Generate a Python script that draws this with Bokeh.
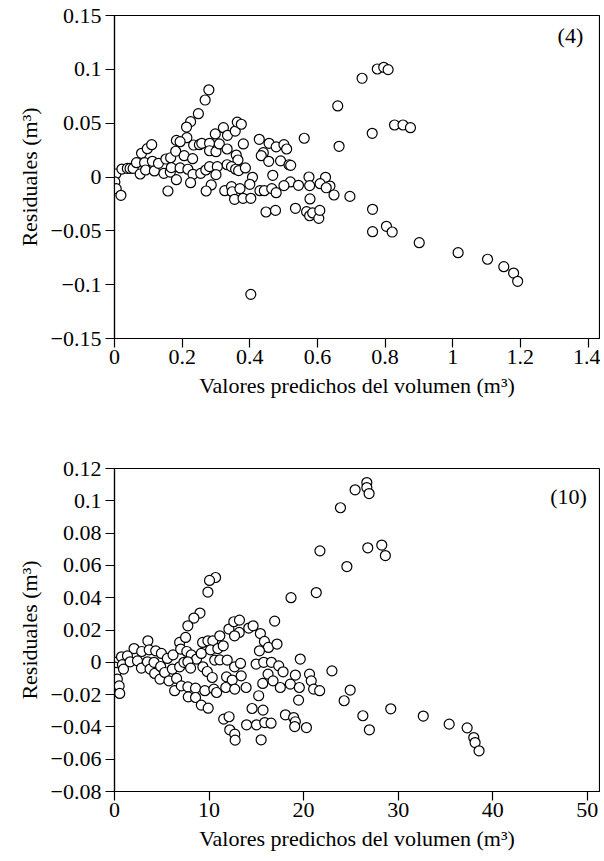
from bokeh.plotting import figure
from bokeh.layouts import column
from bokeh.models import ColumnDataSource, Range1d, FixedTicker, CustomJSTickFormatter, Label
from bokeh.embed import file_html
from bokeh.resources import INLINE

FONT = "Liberation Serif"
FS = "22px"

# ---------------- Panel (4) ----------------
x4 = [0.279, 0.268, 0.248, 0.225, 0.213, 0.214, 0.183, 0.194, 0.234, 0.251, 0.258, 0.281, 0.281, 0.300,
      0.310, 0.298, 0.322, 0.334, 0.357, 0.363, 0.375, 0.381, 0.333, 0.360, 0.365, 0.333, 0.346, 0.358,
      0.367, 0.387, 0.408, 0.400, 0.428, 0.440, 0.434, 0.457, 0.456, 0.478, 0.501, 0.509, 0.491, 0.516,
      0.521, 0.468, 0.561, 0.575, 0.577, 0.520, 0.501, 0.544, 0.660, 0.664, 0.624, 0.608, 0.637, 0.649,
      0.696,
      0.004, 0.001, 0.005, 0.019, 0.022, 0.038, 0.046, 0.055, 0.065, 0.076, 0.080, 0.097, 0.110, 0.089,
      0.092, 0.112, 0.118, 0.130, 0.152, 0.166, 0.181, 0.146, 0.165, 0.168, 0.194, 0.206, 0.231, 0.217,
      0.232, 0.225, 0.183, 0.158, 0.255, 0.270, 0.281, 0.304, 0.300, 0.286, 0.271, 0.326, 0.346, 0.348,
      0.371, 0.430, 0.443, 0.465, 0.478,
      0.355, 0.380, 0.403, 0.448, 0.476, 0.535, 0.568, 0.578, 0.577, 0.586, 0.604, 0.607, 0.626, 0.403,
      0.732, 0.777, 0.796, 0.809, 0.762, 0.828, 0.853, 0.875,
      0.763, 0.763, 0.804, 0.821, 0.901, 1.016, 1.103, 1.151, 1.180, 1.192]
y4 = [0.081, 0.0715, 0.0588, 0.0514, 0.0464, 0.0365, 0.034, 0.0328, 0.0297, 0.030, 0.0313, 0.0313, 0.0244,
      0.0235, 0.0307, 0.040, 0.0458, 0.0387, 0.0427, 0.051, 0.049, 0.0307, 0.026, 0.0204, 0.0158, 0.0114,
      0.0096, 0.0072, 0.0059, 0.0084, -0.0003, -0.0068, 0.035, 0.0226, 0.0198, 0.0313, 0.0146, 0.028,
      0.030, 0.026, 0.015, 0.0114, 0.0108, 0.0016, 0.036, 0.0, -0.008, -0.0046, -0.008, -0.0077, 0.066,
      0.0285, -0.0003, -0.0062, -0.0084, -0.0167, -0.018,
      0.0028, -0.0046, -0.0108, -0.017, 0.0074, 0.008, 0.008, 0.008, 0.0133, 0.0028, 0.022, 0.0263, 0.030,
      0.0133, 0.0065, 0.0146, 0.0056, 0.0127, 0.0167, 0.0179, 0.0239, 0.0034, 0.0046, 0.0087, 0.0084,
      0.0198, 0.017, 0.0072, 0.0025, -0.0053, -0.0025, -0.013, 0.0034, 0.0065, 0.0096, 0.0096, 0.0022,
      -0.0074, -0.013, -0.0127, -0.009, -0.0137, -0.0108, -0.0127, -0.0127, -0.0108, -0.0146,
      -0.0207, -0.0198, -0.0198, -0.0325, -0.031, -0.0291, -0.0322, -0.0204, -0.036, -0.0334, -0.0384,
      -0.031, -0.010, -0.109,
      0.0917, 0.1003, 0.1019, 0.0997, 0.0406, 0.0483, 0.0483, 0.0458,
      -0.030, -0.0508, -0.0458, -0.0511, -0.061, -0.0703, -0.0764, -0.0833, -0.0892, -0.0969]
xticks4 = [0, 0.2, 0.4, 0.6, 0.8, 1.0, 1.2, 1.4]
yticks4 = [-0.15, -0.1, -0.05, 0, 0.05, 0.1, 0.15]

# ---------------- Panel (10) ----------------
x10 = [23.9, 21.73, 24.58, 10.69, 10.05, 9.88, 18.67, 21.34, 9.04, 8.40, 25.45, 26.69, 26.69, 26.93,
       26.79, 28.27, 28.65,
       7.76, 6.89, 7.52, 3.53, 2.07, 2.88, 3.67, 4.36, 4.96, 5.59, 6.19, 7.0, 7.65, 8.12, 8.68, 9.18,
       9.32, 9.88, 10.4, 10.16, 10.93, 11.14, 11.5, 12.1, 12.62, 13.22, 13.19, 12.7, 14.2, 14.66, 15.43,
       15.86, 16.28, 16.94, 17.19, 15.33, 19.65,
       0.1, 0.05, 0.15, 0.3, 0.49, 0.55, 0.74, 0.84, 0.95, 1.37, 1.65, 2.43, 2.85, 3.48, 3.76, 4.18,
       4.25, 4.88, 4.81, 5.31, 5.76, 6.12, 6.57, 6.36, 6.89, 7.07, 7.34, 7.76, 8.05, 7.76, 8.57, 7.80,
       8.57, 9.18, 9.91, 9.35, 9.81, 10.34, 9.56, 10.51, 10.8, 10.6, 11.14, 11.92, 12.7, 13.33, 11.85,
       12.45, 13.4, 11.77, 12.72, 13.92, 14.98, 15.78, 16.6, 17.37, 17.83, 16.24, 16.77, 15.68, 17.54,
       18.6, 19.13, 19.55, 19.47, 15.25, 14.55, 15.71, 11.55, 12.12, 12.19, 12.72, 12.76, 13.97, 15.02,
       15.89, 16.56, 15.51, 18.08, 18.95, 19.13, 19.06, 20.3, 20.63, 20.81, 21.06, 21.7, 23.0, 24.29,
       24.93,
       26.27, 26.96, 29.22, 32.66, 35.4, 37.3, 38.0, 38.14, 38.56]
y10 = [0.0957, 0.069, 0.0593, 0.0525, 0.0507, 0.0435, 0.040, 0.0432, 0.0305, 0.0274, 0.1068, 0.1113,
       0.1082, 0.1045, 0.0709, 0.0726, 0.0661,
       0.0226, 0.0123, 0.0154, 0.0133, 0.0085, 0.0067, 0.0077, 0.0071, 0.0055, 0.0024, 0.0046, 0.0082,
       0.0067, 0.0046, 0.002, 0.0055, 0.0123, 0.0133, 0.0133, 0.0077, 0.0085, 0.0164, 0.0102, 0.0206,
       0.0251, 0.0261, 0.0185, 0.0164, 0.0212, 0.0226, 0.0178, 0.0129, 0.0092, 0.0255, 0.0113, 0.0071,
       0.002,
       0.0, -0.003, -0.0063, -0.0104, -0.0146, -0.0193, 0.0034, -0.0015, -0.0042, 0.004, 0.0003, 0.0009,
       -0.0036, 0.0003, -0.0042, 0.0, -0.0069, -0.0026, -0.0104, -0.0063, -0.0115, -0.0042, -0.010,
       -0.0176, -0.0028, -0.0146, 0.0, 0.0003, -0.0036, -0.0152, -0.016, -0.0214, -0.0218, -0.0265,
       -0.0284, -0.0028, -0.0057, -0.0094, -0.0176, -0.0166, -0.0187, 0.0014, 0.0015, 0.0014, -0.0028,
       -0.0007, -0.009, -0.011, -0.0084, -0.0156, -0.0166, -0.0156, -0.0011, 0.0, 0.0, -0.0022, -0.0059,
       -0.0073, -0.0115, -0.0131, -0.0156, -0.0135, -0.0079, -0.0156, -0.0234, -0.0207, -0.0286,
       -0.0296, -0.0352, -0.0337, -0.0418, -0.0445, -0.0482, -0.0387, -0.0387, -0.0373, -0.0377, -0.048,
       -0.0325, -0.0342, -0.0368, -0.0398, -0.0404, -0.0073, -0.0115, -0.0166, -0.0176, -0.0053,
       -0.0238, -0.0172,
       -0.0331, -0.0418, -0.0288, -0.0333, -0.0383, -0.0406, -0.0466, -0.0497, -0.0548]
xticks10 = [0, 10, 20, 30, 40, 50]
yticks10 = [-0.08, -0.06, -0.04, -0.02, 0, 0.02, 0.04, 0.06, 0.08, 0.1, 0.12]

XLABEL = "Valores predichos del volumen (m³)"
YLABEL = "Residuales (m³)"

FMT = CustomJSTickFormatter(code="""
const v = parseFloat(Math.abs(tick).toFixed(4));
if (v == 0) { return "0"; }
return (tick < 0 ? "\u2212" : "") + v.toString();
""")


def make(xs, ys, xr, yr, xticks, yticks, tag, tag_x, tag_y, height, top, bottom):
    p = figure(width=600, height=height, x_range=Range1d(*xr), y_range=Range1d(*yr),
               output_backend="svg", toolbar_location=None,
               min_border_left=114, min_border_right=1,
               min_border_top=top, min_border_bottom=bottom)
    p.background_fill_color = "white"
    p.border_fill_color = "white"
    p.xgrid.visible = False
    p.ygrid.visible = False
    p.outline_line_color = "black"
    p.outline_line_width = 1.2
    p.outline_line_alpha = 1.0

    src = ColumnDataSource(dict(x=xs, y=ys))
    p.scatter("x", "y", source=src, marker="circle", size=10,
              fill_color="white", line_color="black", line_width=1.2)

    for ax in (p.xaxis[0], p.yaxis[0]):
        ax.axis_line_color = "black"
        ax.axis_line_width = 1.2
        ax.major_tick_line_color = "black"
        ax.major_tick_line_width = 1.2
        ax.major_tick_out = 9
        ax.major_tick_in = 0
        ax.minor_tick_line_color = None
        ax.major_label_text_font = FONT
        ax.major_label_text_font_size = FS
        ax.major_label_text_color = "black"
        ax.axis_label_text_font = FONT
        ax.axis_label_text_font_size = FS
        ax.axis_label_text_font_style = "normal"
        ax.axis_label_text_color = "black"
        ax.formatter = FMT

    p.xaxis.ticker = FixedTicker(ticks=xticks)
    p.yaxis.ticker = FixedTicker(ticks=yticks)
    p.xaxis.axis_label = XLABEL
    p.yaxis.axis_label = YLABEL
    p.xaxis.major_label_standoff = 2
    p.xaxis.axis_label_standoff = 6
    p.yaxis.major_label_standoff = 4
    p.yaxis.axis_label_standoff = 6

    p.add_layout(Label(x=tag_x, y=tag_y, text=tag, text_font=FONT, text_font_size=FS,
                       text_align="right", text_baseline="middle", text_color="black"))
    return p


p1 = make(x4, y4, (0, 1.434), (-0.15, 0.15), xticks4, yticks4, "(4)", 1.386, 0.131,
          height=438, top=15, bottom=100)
p2 = make(x10, y10, (0, 51.3), (-0.08, 0.12), xticks10, yticks10, "(10)", 49.96, 0.1025,
          height=415, top=30, bottom=62)

layout = column(p1, p2)
open("out.html", "w").write(file_html(layout, INLINE))
